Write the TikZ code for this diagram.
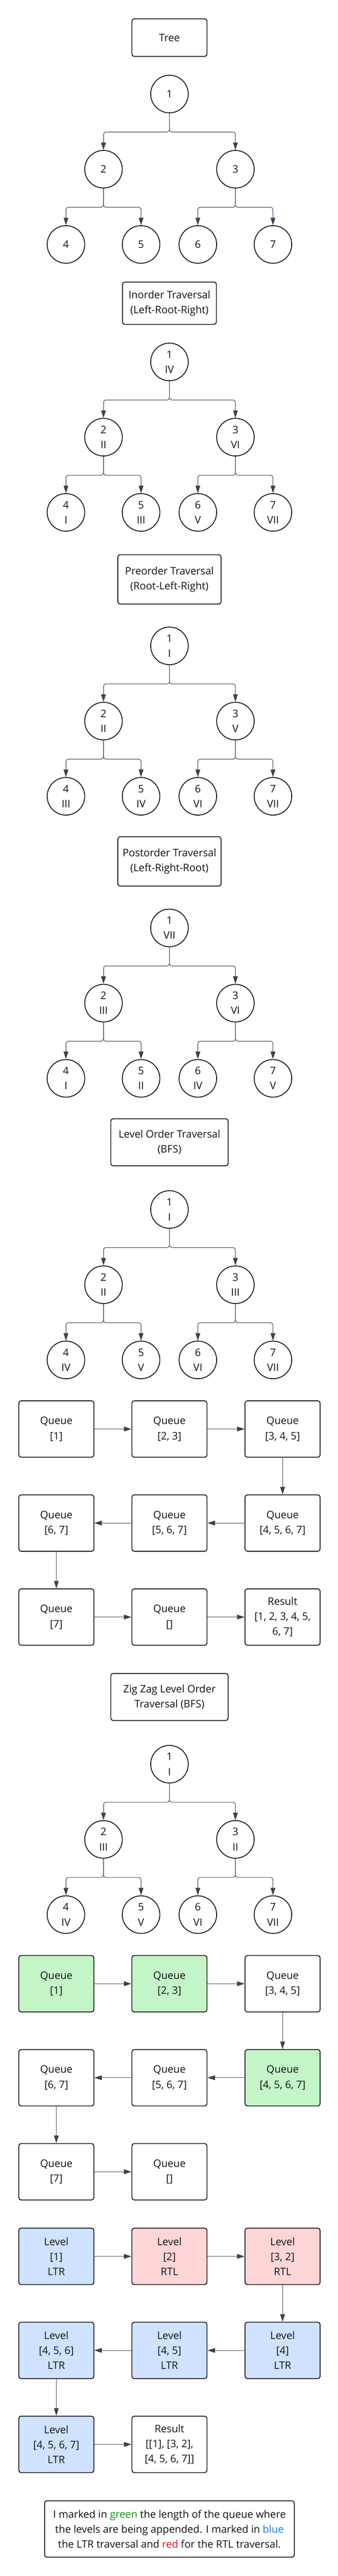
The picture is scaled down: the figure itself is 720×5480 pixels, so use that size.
\documentclass[tikz,border=0pt]{standalone}
\usepackage{fontspec}
\setmainfont{Open Sans}
\usetikzlibrary{arrows.meta}
\definecolor{lnk}{HTML}{4B5563}
\definecolor{tipc}{HTML}{3A4250}
\definecolor{gfill}{HTML}{C3F5C7}
\definecolor{bfill}{HTML}{CFE2FF}
\definecolor{rfill}{HTML}{FFD6D8}
\definecolor{tgreen}{HTML}{12960F}
\definecolor{tblue}{HTML}{1F78E8}
\definecolor{tred}{HTML}{EE1111}
\definecolor{ink}{HTML}{111111}

\newcommand\mytree[9]{%
  \node[circ] (#1a) at (361,#2) {#3};
  \node[circ] (#1b) at (220.5,#2+160) {#4};
  \node[circ] (#1c) at (501.5,#2+160) {#5};
  \node[circ] (#1d) at (140.5,#2+320) {#6};
  \node[circ] (#1e) at (300.5,#2+320) {#7};
  \node[circ] (#1f) at (421.5,#2+320) {#8};
  \node[circ] (#1g) at (581.5,#2+320) {#9};
  \draw[tedge] (#1a.south) -- ++(0,40) -| (#1b.north);
  \draw[tedge] (#1a.south) -- ++(0,40) -| (#1c.north);
  \draw[tedge] (#1b.south) -- ++(0,40) -| (#1d.north);
  \draw[tedge] (#1b.south) -- ++(0,40) -| (#1e.north);
  \draw[tedge] (#1c.south) -- ++(0,40) -| (#1f.north);
  \draw[tedge] (#1c.south) -- ++(0,40) -| (#1g.north);
}

\begin{document}
\begin{tikzpicture}[x=1pt,y=-1pt,
  every node/.style={font=\fontsize{22}{32}\selectfont, text=ink},
  circ/.style={circle,draw=ink,line width=1.8pt,minimum size=80pt,inner sep=0pt,align=center},
  tbox/.style={draw=ink,line width=1.8pt,rounded corners=5pt,align=center,inner sep=0pt},
  qbox/.style={tbox,minimum width=160pt,minimum height=120pt},
  link/.style={draw=lnk,line width=1.3pt,-{Triangle[length=16pt,width=10pt,color=tipc]}},
  tedge/.style={link,rounded corners=5pt}]

\fill[white] (0,0) rectangle (720,5480);
\useasboundingbox (0,0) rectangle (720,5480);

% ---------- Tree ----------
\node[tbox,minimum width=160pt,minimum height=80pt] (h1) at (361,80) {Tree};
\mytree{t1}{200}{1}{2}{3}{4}{5}{6}{7}

% ---------- Inorder ----------
\node[tbox,minimum width=200pt,minimum height=90pt] (h2) at (361,645) {Inorder Traversal\\(Left-Root-Right)};
\mytree{t2}{770}{1\\IV}{2\\II}{3\\VI}{4\\I}{5\\III}{6\\V}{7\\VII}

% ---------- Preorder ----------
\node[tbox,minimum width=220pt,minimum height=105pt] (h3) at (361,1232.5) {Preorder Traversal\\(Root-Left-Right)};
\mytree{t3}{1374}{1\\I}{2\\II}{3\\V}{4\\III}{5\\IV}{6\\VI}{7\\VII}

% ---------- Postorder ----------
\node[tbox,minimum width=220pt,minimum height=105pt] (h4) at (361,1832.5) {Postorder Traversal\\(Left-Right-Root)};
\mytree{t4}{1974}{1\\VII}{2\\III}{3\\VI}{4\\I}{5\\II}{6\\IV}{7\\V}

% ---------- Level order ----------
\node[tbox,minimum width=250pt,minimum height=100pt] (h5) at (361,2430) {Level Order Traversal\\(BFS)};
\mytree{t5}{2573}{1\\I}{2\\II}{3\\III}{4\\IV}{5\\V}{6\\VI}{7\\VII}

\node[qbox] (q1) at (120,3040) {Queue\\{[1]}};
\node[qbox] (q2) at (361,3040) {Queue\\{[2, 3]}};
\node[qbox] (q3) at (602,3040) {Queue\\{[3, 4, 5]}};
\node[qbox] (q4) at (602,3240) {Queue\\{[4, 5, 6, 7]}};
\node[qbox] (q5) at (361,3240) {Queue\\{[5, 6, 7]}};
\node[qbox] (q6) at (120,3240) {Queue\\{[6, 7]}};
\node[qbox] (q7) at (120,3440) {Queue\\{[7]}};
\node[qbox] (q8) at (361,3440) {Queue\\{[]}};
\node[qbox] (qr) at (602,3440) {Result\\{[1, 2, 3, 4, 5,}\\6, 7]};
\draw[link] (q1) -- (q2);
\draw[link] (q2) -- (q3);
\draw[link] (q3) -- (q4);
\draw[link] (q4) -- (q5);
\draw[link] (q5) -- (q6);
\draw[link] (q6) -- (q7);
\draw[link] (q7) -- (q8);
\draw[link] (q8) -- (qr);

% ---------- Zig Zag ----------
\node[tbox,minimum width=250pt,minimum height=100pt] (h6) at (361,3610) {Zig Zag Level Order\\Traversal (BFS)};
\mytree{t6}{3753}{1\\I}{2\\III}{3\\II}{4\\IV}{5\\V}{6\\VI}{7\\VII}

\node[qbox,fill=gfill] (z1) at (120,4220) {Queue\\{[1]}};
\node[qbox,fill=gfill] (z2) at (361,4220) {Queue\\{[2, 3]}};
\node[qbox] (z3) at (602,4220) {Queue\\{[3, 4, 5]}};
\node[qbox,fill=gfill] (z4) at (602,4420) {Queue\\{[4, 5, 6, 7]}};
\node[qbox] (z5) at (361,4420) {Queue\\{[5, 6, 7]}};
\node[qbox] (z6) at (120,4420) {Queue\\{[6, 7]}};
\node[qbox] (z7) at (120,4620) {Queue\\{[7]}};
\node[qbox] (z8) at (361,4620) {Queue\\{[]}};
\draw[link] (z1) -- (z2);
\draw[link] (z2) -- (z3);
\draw[link] (z3) -- (z4);
\draw[link] (z4) -- (z5);
\draw[link] (z5) -- (z6);
\draw[link] (z6) -- (z7);
\draw[link] (z7) -- (z8);

\node[qbox,fill=bfill] (l1) at (120,4800) {Level\\{[1]}\\LTR};
\node[qbox,fill=rfill] (l2) at (361,4800) {Level\\{[2]}\\RTL};
\node[qbox,fill=rfill] (l3) at (602,4800) {Level\\{[3, 2]}\\RTL};
\node[qbox,fill=bfill] (l4) at (602,5000) {Level\\{[4]}\\LTR};
\node[qbox,fill=bfill] (l5) at (361,5000) {Level\\{[4, 5]}\\LTR};
\node[qbox,fill=bfill] (l6) at (120,5000) {Level\\{[4, 5, 6]}\\LTR};
\node[qbox,fill=bfill] (l7) at (120,5200) {Level\\{[4, 5, 6, 7]}\\LTR};
\node[qbox] (lr) at (361,5200) {Result\\{[[1], [3, 2],}\\{[4, 5, 6, 7]]}};
\draw[link] (l1) -- (l2);
\draw[link] (l2) -- (l3);
\draw[link] (l3) -- (l4);
\draw[link] (l4) -- (l5);
\draw[link] (l5) -- (l6);
\draw[link] (l6) -- (l7);
\draw[link] (l7) -- (lr);

% ---------- Note ----------
\node[tbox,minimum width=532pt,minimum height=120pt] (note) at (361,5380)
  {I marked in \textcolor{tgreen}{green} the length of the queue where\\
   the levels are being appended. I marked in \textcolor{tblue}{blue}\\
   the LTR traversal and \textcolor{tred}{red} for the RTL traversal.};
\end{tikzpicture}
\end{document}
